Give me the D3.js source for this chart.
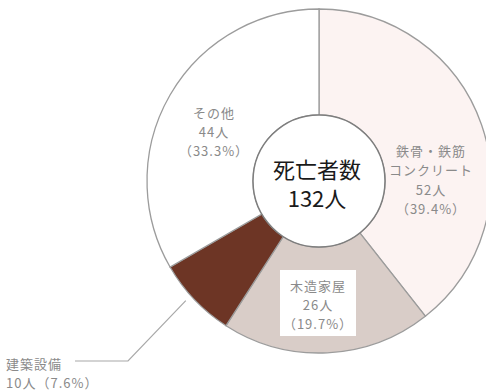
<!DOCTYPE html>
<html>
<head>
<meta charset="utf-8">
<script src="https://cdn.jsdelivr.net/npm/d3@7"></script>
<style>
  html, body { margin: 0; padding: 0; background: #ffffff; }
  svg { display: block; }
</style>
</head>
<body>
<svg id="chart" width="486" height="391"></svg>
<script>
// Deaths by type of building / facility
const categories = ["鉄骨・鉄筋コンクリート", "木造家屋", "建築設備", "その他"];
const labelLines = [["鉄骨・鉄筋", "コンクリート"], ["木造家屋"], ["建築設備"], ["その他"]];
const deaths = [52, 26, 10, 44];
const shares = ["39.4%", "19.7%", "7.6%", "33.3%"];
const totalLabel = ["死亡者数", "132人"];

const colors = ["#fcf3f2", "#d9cdc8", "#6d3525", "#ffffff"];

const W = 486, H = 391;
const cx = 319, cy = 181;
const outerR = 172, innerR = 66;

const svg = d3.select("#chart");
const g = svg.append("g").attr("transform", `translate(${cx},${cy})`);

const pie = d3.pie().sort(null).value(d => d.value).startAngle(0).endAngle(2 * Math.PI);
const rows = categories.map((c, i) => ({ name: c, value: deaths[i], i }));
const arcs = pie(rows);

const arc = d3.arc().innerRadius(innerR).outerRadius(outerR);

g.selectAll("path.slice")
  .data(arcs)
  .join("path")
  .attr("class", "slice")
  .attr("d", arc)
  .attr("fill", d => colors[d.data.i])
  .attr("stroke", "#9c9c9c")
  .attr("stroke-width", 1.3);

// centre disc
g.append("circle")
  .attr("r", innerR)
  .attr("fill", "#ffffff")
  .attr("stroke", "#7e7e7e")
  .attr("stroke-width", 1.5);

const centerText = g.append("text")
  .attr("text-anchor", "middle")
  .attr("font-family", "'Noto Sans CJK JP', 'Noto Sans', sans-serif")
  .attr("font-size", 22)
  .attr("fill", "#1a1a1a");
totalLabel.forEach((t, k) => {
  centerText.append("tspan")
    .attr("x", -2)
    .attr("y", -3 + k * 29)
    .text(t);
});

// label layout for each slice (absolute page coordinates of the text block centre)
const labelFont = "'Noto Sans CJK JP', 'Noto Sans', sans-serif";
const labelLayout = {
  0: { x: 431, y: 150, step: 19.5 },
  1: { x: 318, y: 285, step: 19 },
  3: { x: 214, y: 112, step: 19 }
};

// white box behind the wooden-house label
const box = labelLayout[1];
svg.append("rect")
  .attr("x", box.x - 38)
  .attr("y", 270)
  .attr("width", 76)
  .attr("height", 66)
  .attr("fill", "#ffffff");

[0, 1, 3].forEach(i => {
  const L = labelLayout[i];
  const lines = labelLines[i].concat([`${deaths[i]}人`, `（${shares[i]}）`]);
  const t = svg.append("text")
    .attr("text-anchor", "middle")
    .attr("font-family", labelFont)
    .attr("font-size", 13)
    .attr("fill", "#8a8a8a")
    .attr("letter-spacing", 1);
  lines.forEach((s, k) => {
    t.append("tspan")
      .attr("x", L.x)
      .attr("y", L.y + k * L.step)
      .attr("dominant-baseline", "central")
      .text(s);
  });
});

// leader line and label for the small slice
const small = arcs[2];
const midA = (small.startAngle + small.endAngle) / 2 + 0.03;
const edge = [cx + (outerR + 7) * Math.sin(midA), cy - (outerR + 7) * Math.cos(midA)];
svg.append("polyline")
  .attr("points", [[edge[0], edge[1]], [128, 361], [75, 361]].map(p => p.join(",")).join(" "))
  .attr("fill", "none")
  .attr("stroke", "#a8a8a8")
  .attr("stroke-width", 1.2);

const st = svg.append("text")
  .attr("font-family", labelFont)
  .attr("font-size", 13)
  .attr("fill", "#8a8a8a")
  .attr("letter-spacing", 1);
st.append("tspan").attr("x", 6).attr("y", 363).attr("dominant-baseline", "central").text(labelLines[2][0]);
st.append("tspan").attr("x", 6).attr("y", 382).attr("dominant-baseline", "central").text(`${deaths[2]}人（${shares[2]}）`);
</script>
</body>
</html>
